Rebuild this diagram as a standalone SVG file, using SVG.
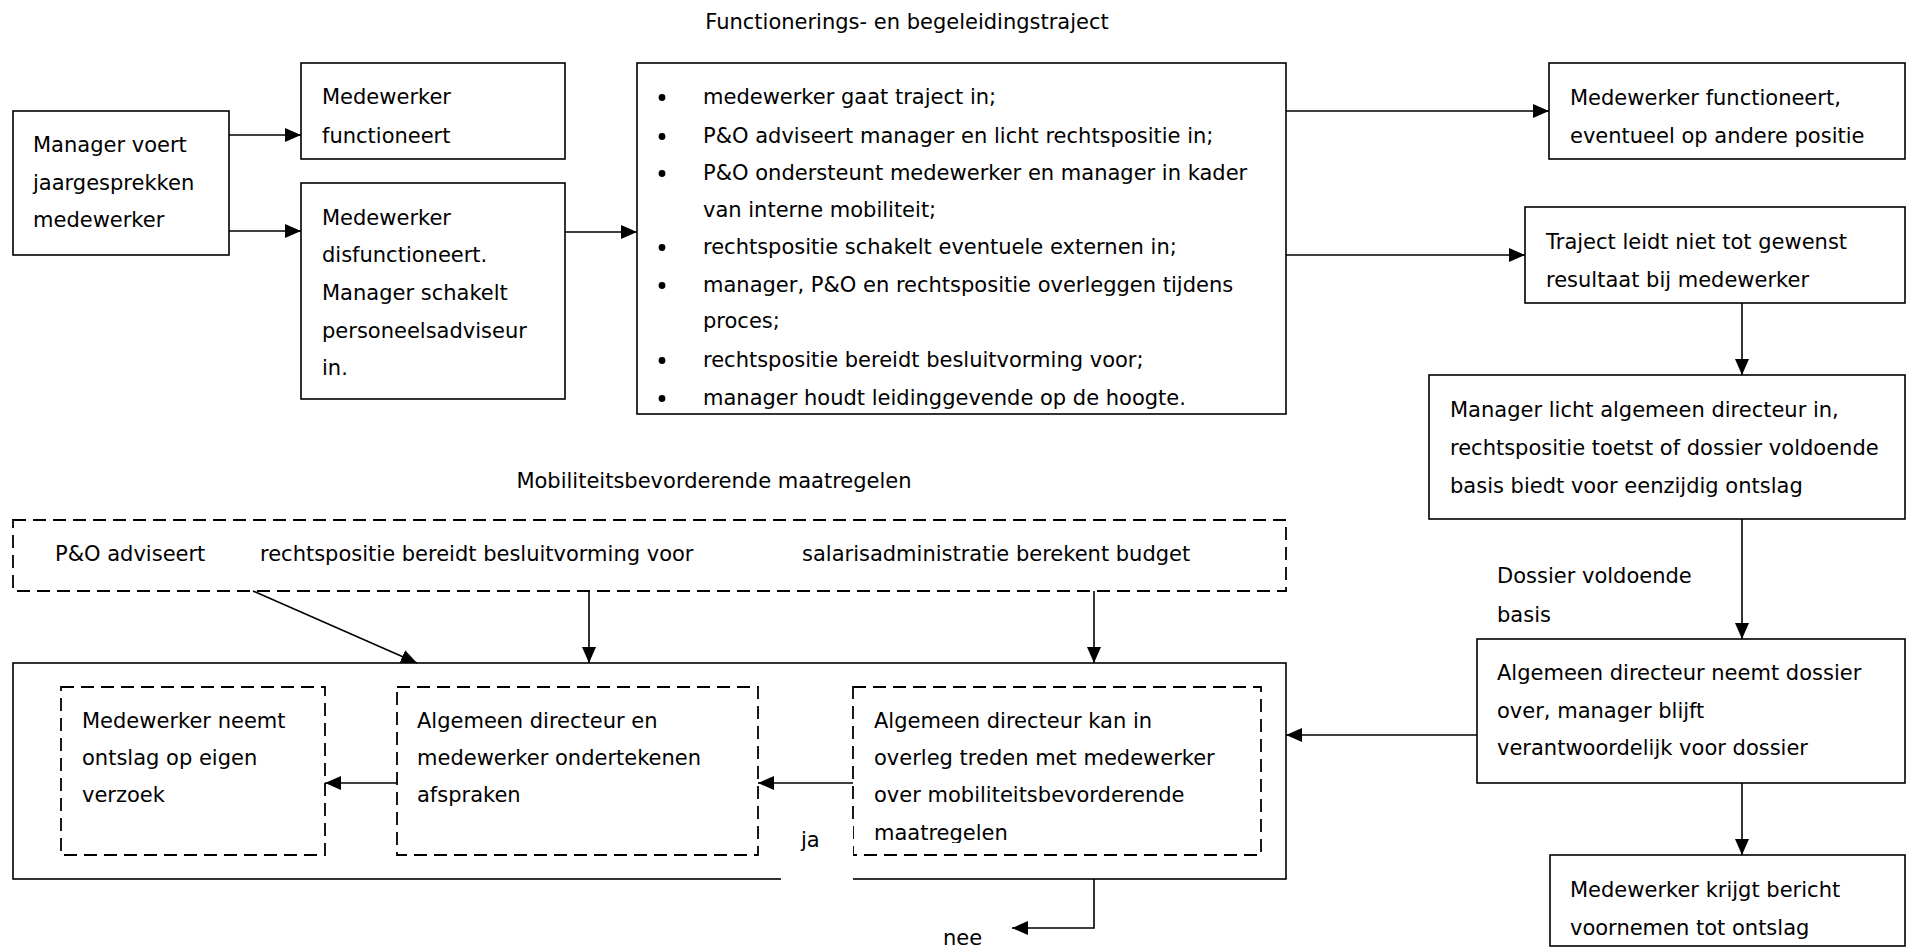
<svg xmlns="http://www.w3.org/2000/svg" width="1910" height="949" viewBox="0 0 1910 949">
<style>
text{font-family:"DejaVu Sans","Verdana",sans-serif;font-size:21px;fill:#000}
.box{fill:#fff;stroke:#000;stroke-width:1.6}
.dash{fill:none;stroke:#000;stroke-width:1.8;stroke-dasharray:13 7}
.con{fill:none;stroke:#000;stroke-width:1.6}
.bul{fill:#000}
</style>
<defs>
<marker id="ah" markerUnits="userSpaceOnUse" markerWidth="16" markerHeight="14" refX="16" refY="7" orient="auto">
<path d="M0,0 L16,7 L0,14 z" fill="#000"/>
</marker>
<clipPath id="clip3"><rect x="853" y="687" width="408" height="156"/></clipPath>
</defs>
<rect width="1910" height="949" fill="#fff"/>

<g id="title1"><text x="907" y="29" text-anchor="middle">Functionerings- en begeleidingstraject</text></g>

<g id="n-manager"><rect class="box" x="13" y="111" width="216" height="144"/>
<text x="33" y="152">Manager voert</text><text x="33" y="190">jaargesprekken</text><text x="33" y="227">medewerker</text></g>

<g id="n-functioneert"><rect class="box" x="301" y="63" width="264" height="96"/>
<text x="322" y="104">Medewerker</text><text x="322" y="143">functioneert</text></g>

<g id="n-disfunctioneert"><rect class="box" x="301" y="183" width="264" height="216"/>
<text x="322" y="225">Medewerker</text><text x="322" y="262">disfunctioneert.</text><text x="322" y="300">Manager schakelt</text><text x="322" y="338">personeelsadviseur</text><text x="322" y="375">in.</text></g>

<g id="n-traject"><rect class="box" x="637" y="63" width="649" height="351"/>
<circle class="bul" cx="662" cy="97.5" r="3.4"/><text x="703" y="104">medewerker gaat traject in;</text>
<circle class="bul" cx="662" cy="136.5" r="3.4"/><text x="703" y="143">P&amp;O adviseert manager en licht rechtspositie in;</text>
<circle class="bul" cx="662" cy="173.5" r="3.4"/><text x="703" y="180">P&amp;O ondersteunt medewerker en manager in kader</text>
<text x="703" y="217">van interne mobiliteit;</text>
<circle class="bul" cx="662" cy="247.5" r="3.4"/><text x="703" y="254">rechtspositie schakelt eventuele externen in;</text>
<circle class="bul" cx="662" cy="285.5" r="3.4"/><text x="703" y="292">manager, P&amp;O en rechtspositie overleggen tijdens</text>
<text x="703" y="328">proces;</text>
<circle class="bul" cx="662" cy="360.5" r="3.4"/><text x="703" y="367">rechtspositie bereidt besluitvorming voor;</text>
<circle class="bul" cx="662" cy="398.5" r="3.4"/><text x="703" y="405">manager houdt leidinggevende op de hoogte.</text></g>

<g id="n-functioneert-anders"><rect class="box" x="1549" y="63" width="356" height="96"/>
<text x="1570" y="105">Medewerker functioneert,</text><text x="1570" y="143">eventueel op andere positie</text></g>

<g id="n-niet-gewenst"><rect class="box" x="1525" y="207" width="380" height="96"/>
<text x="1546" y="249">Traject leidt niet tot gewenst</text><text x="1546" y="287">resultaat bij medewerker</text></g>

<g id="n-licht-in"><rect class="box" x="1429" y="375" width="476" height="144"/>
<text x="1450" y="417">Manager licht algemeen directeur in,</text><text x="1450" y="455">rechtspositie toetst of dossier voldoende</text><text x="1450" y="493">basis biedt voor eenzijdig ontslag</text></g>

<g id="lbl-dossier"><text x="1497" y="583">Dossier voldoende</text><text x="1497" y="622">basis</text></g>

<g id="n-neemt-over"><rect class="box" x="1477" y="639" width="428" height="144"/>
<text x="1497" y="680">Algemeen directeur neemt dossier</text><text x="1497" y="718">over, manager blijft</text><text x="1497" y="755">verantwoordelijk voor dossier</text></g>

<g id="n-bericht"><rect class="box" x="1550" y="855" width="355" height="91"/>
<text x="1570" y="897">Medewerker krijgt bericht</text><text x="1570" y="935">voornemen tot ontslag</text></g>

<g id="title2"><text x="714" y="488" text-anchor="middle">Mobiliteitsbevorderende maatregelen</text></g>

<g id="n-maatregelen-top"><rect class="dash" x="13" y="520" width="1273" height="71"/>
<text x="55" y="561">P&amp;O adviseert</text><text x="260" y="561">rechtspositie bereidt besluitvorming voor</text><text x="802" y="561">salarisadministratie berekent budget</text></g>

<g id="n-container"><rect class="box" x="13" y="663" width="1273" height="216"/></g>

<g id="n-eigen-verzoek"><rect class="dash" x="61" y="687" width="264" height="168"/>
<text x="82" y="728">Medewerker neemt</text><text x="82" y="765">ontslag op eigen</text><text x="82" y="802">verzoek</text></g>

<g id="n-ondertekenen"><rect class="dash" x="397" y="687" width="361" height="168"/>
<text x="417" y="728">Algemeen directeur en</text><text x="417" y="765">medewerker ondertekenen</text><text x="417" y="802">afspraken</text></g>

<g id="n-overleg"><rect class="dash" x="853" y="687" width="408" height="168"/>
<g clip-path="url(#clip3)"><text x="874" y="728">Algemeen directeur kan in</text><text x="874" y="765">overleg treden met medewerker</text><text x="874" y="802">over mobiliteitsbevorderende</text><text x="874" y="840">maatregelen</text></g></g>

<g id="connectors">
<line class="con" x1="229" y1="135" x2="301" y2="135" marker-end="url(#ah)"/>
<line class="con" x1="229" y1="231" x2="301" y2="231" marker-end="url(#ah)"/>
<line class="con" x1="565" y1="232" x2="637" y2="232" marker-end="url(#ah)"/>
<line class="con" x1="1286" y1="111" x2="1549" y2="111" marker-end="url(#ah)"/>
<line class="con" x1="1286" y1="255" x2="1525" y2="255" marker-end="url(#ah)"/>
<line class="con" x1="1742" y1="303" x2="1742" y2="375" marker-end="url(#ah)"/>
<line class="con" x1="1742" y1="519" x2="1742" y2="639" marker-end="url(#ah)"/>
<line class="con" x1="1742" y1="783" x2="1742" y2="855" marker-end="url(#ah)"/>
<line class="con" x1="1477" y1="735" x2="1286" y2="735" marker-end="url(#ah)"/>
<line class="con" x1="253" y1="591" x2="417" y2="663" marker-end="url(#ah)"/>
<line class="con" x1="589" y1="591" x2="589" y2="663" marker-end="url(#ah)"/>
<line class="con" x1="1094" y1="591" x2="1094" y2="663" marker-end="url(#ah)"/>
<line class="con" x1="853" y1="783" x2="758" y2="783" marker-end="url(#ah)"/>
<line class="con" x1="397" y1="783" x2="325" y2="783" marker-end="url(#ah)"/>
<polyline class="con" points="1094,879 1094,928 1012,928" marker-end="url(#ah)"/>
</g>

<g id="lbl-ja"><rect x="781" y="822" width="72" height="60" fill="#fff"/><text x="801" y="847">ja</text></g>
<g id="lbl-nee"><text x="943" y="945">nee</text></g>
</svg>
